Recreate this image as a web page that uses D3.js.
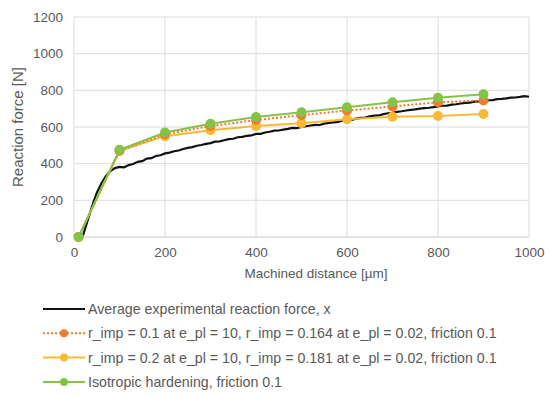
<!DOCTYPE html>
<html>
<head>
<meta charset="utf-8">
<script src="https://cdn.jsdelivr.net/npm/d3@7"></script>
<style>
  body { margin: 0; background: #fff; }
  svg { font-family: "Liberation Sans", Arial, sans-serif; }
</style>
</head>
<body>
<div id="chart"></div>
<script>
// simulation sample points (µm)
const simX = [10, 100, 200, 300, 400, 500, 600, 700, 800, 900];
const rImp01 = [0, 470, 560, 605, 638, 665, 690, 712, 735, 745];
const rImp02 = [0, 470, 550, 582, 605, 620, 642, 656, 660, 671];
const isoHard = [0, 476, 570, 618, 655, 680, 708, 735, 760, 778];

// averaged experiment (µm, N)
const expX = [18, 20, 30, 40, 50, 60, 70, 80, 90, 100, 110, 120, 130, 140, 150, 160, 170, 180, 190, 200,
  210, 220, 230, 240, 250, 260, 270, 280, 290, 300, 310, 320, 330, 340, 350, 360, 370, 380, 390, 400,
  410, 420, 430, 440, 450, 460, 470, 480, 490, 500, 510, 520, 530, 540, 550, 560, 570, 580, 590, 600,
  610, 620, 630, 640, 650, 660, 670, 680, 690, 700, 710, 720, 730, 740, 750, 760, 770, 780, 790, 800,
  810, 820, 830, 840, 850, 860, 870, 880, 890, 900, 910, 920, 930, 940, 950, 960, 970, 980, 990, 1000];
const expY = [0, 10, 90, 170, 240, 292, 332, 360, 376, 382, 380, 392, 398, 410, 414, 428, 430, 442, 446, 456,
  460, 468, 472, 480, 486, 490, 498, 502, 508, 512, 520, 522, 528, 534, 536, 544, 546, 552, 554, 562,
  563, 570, 574, 580, 581, 586, 590, 595, 594, 600, 604, 608, 612, 611, 618, 622, 625, 628, 634, 638,
  639, 646, 650, 651, 658, 662, 663, 670, 675, 677, 683, 686, 690, 693, 696, 700, 703, 705, 708, 712,
  716, 717, 722, 724, 728, 732, 733, 738, 740, 743, 746, 747, 752, 753, 756, 760, 761, 764, 768, 765];

const xTicks = [0, 200, 400, 600, 800, 1000];
const yTicks = [0, 200, 400, 600, 800, 1000, 1200];

const legendLabels = [
  'Average experimental reaction force, x',
  'r_imp = 0.1 at e_pl = 10, r_imp = 0.164 at e_pl = 0.02, friction 0.1',
  'r_imp = 0.2 at e_pl = 10, r_imp = 0.181 at e_pl = 0.02, friction 0.1',
  'Isotropic hardening, friction 0.1'
];

const W = 545, H = 397;
const margin = { top: 17, right: 16, bottom: 160, left: 74 };
const width = W - margin.left - margin.right;
const height = H - margin.top - margin.bottom;
const textColor = '#595959';

const svg = d3.select('#chart').append('svg')
  .attr('width', W).attr('height', H);

const g = svg.append('g')
  .attr('transform', `translate(${margin.left},${margin.top})`);

const x = d3.scaleLinear().domain([0, 1000]).range([0, width]);
const y = d3.scaleLinear().domain([0, 1200]).range([height, 0]);

// grid
g.append('g').selectAll('line').data(yTicks).enter().append('line')
  .attr('x1', 0).attr('x2', width)
  .attr('y1', d => y(d)).attr('y2', d => y(d))
  .attr('stroke', d => d === 0 ? '#c8c8c8' : '#dcdcdc').attr('stroke-width', 1);
g.append('g').selectAll('line').data(xTicks).enter().append('line')
  .attr('y1', 0).attr('y2', height)
  .attr('x1', d => x(d)).attr('x2', d => x(d))
  .attr('stroke', '#dcdcdc').attr('stroke-width', 1);

// axes (labels only)
const fmt = d3.format('d');
const xAxis = g.append('g').attr('transform', `translate(0,${height})`)
  .call(d3.axisBottom(x).tickValues(xTicks).tickFormat(fmt).tickSize(0).tickPadding(10));
const yAxis = g.append('g')
  .call(d3.axisLeft(y).tickValues(yTicks).tickFormat(fmt).tickSize(0).tickPadding(11));
[xAxis, yAxis].forEach(a => {
  a.select('.domain').remove();
  a.selectAll('text').attr('fill', textColor).style('font-size', '13.5px');
});

svg.append('text')
  .attr('x', 316).attr('y', 278)
  .attr('text-anchor', 'middle').attr('fill', textColor)
  .style('font-size', '13.5px')
  .text('Machined distance [µm]');

svg.append('text')
  .attr('transform', `translate(23,127) rotate(-90)`)
  .attr('text-anchor', 'middle').attr('fill', textColor)
  .style('font-size', '15px')
  .text('Reaction force [N]');

const line = d3.line().x(d => x(d[0])).y(d => y(d[1]));

const series = [
  { data: d3.zip(simX, rImp02), color: '#f9b934', dash: null },
  { data: d3.zip(simX, rImp01), color: '#ec7c30', dash: '2,2' },
  { data: d3.zip(simX, isoHard), color: '#86c24a', dash: null }
];

// experiment line
g.append('path')
  .datum(d3.zip(expX, expY))
  .attr('d', line)
  .attr('fill', 'none')
  .attr('stroke', '#111')
  .attr('stroke-width', 2.2);

series.forEach(s => {
  g.append('path').datum(s.data)
    .attr('d', line)
    .attr('fill', 'none')
    .attr('stroke', s.color)
    .attr('stroke-width', 2)
    .attr('stroke-dasharray', s.dash);
  g.selectAll(null).data(s.data).enter().append('circle')
    .attr('cx', d => x(d[0])).attr('cy', d => y(d[1]))
    .attr('r', 5).attr('fill', s.color);
});

// legend
const legendItems = [
  { color: '#111', dash: null, marker: false },
  { color: '#ec7c30', dash: '2,2', marker: true },
  { color: '#f9b934', dash: null, marker: true },
  { color: '#86c24a', dash: null, marker: true }
];
const legend = svg.append('g').attr('transform', 'translate(43,309)');
legendItems.forEach((it, i) => {
  const row = legend.append('g').attr('transform', `translate(0,${i * 24.3})`);
  row.append('line').attr('x1', 0).attr('x2', 42).attr('y1', 0).attr('y2', 0)
    .attr('stroke', it.color).attr('stroke-width', 2)
    .attr('stroke-dasharray', it.dash);
  if (it.marker) {
    row.append('circle').attr('cx', 21).attr('cy', 0).attr('r', 4).attr('fill', it.color);
  }
  row.append('text').attr('x', 45).attr('y', 5)
    .attr('fill', textColor).style('font-size', '14.2px')
    .text(legendLabels[i]);
});
</script>
</body>
</html>
